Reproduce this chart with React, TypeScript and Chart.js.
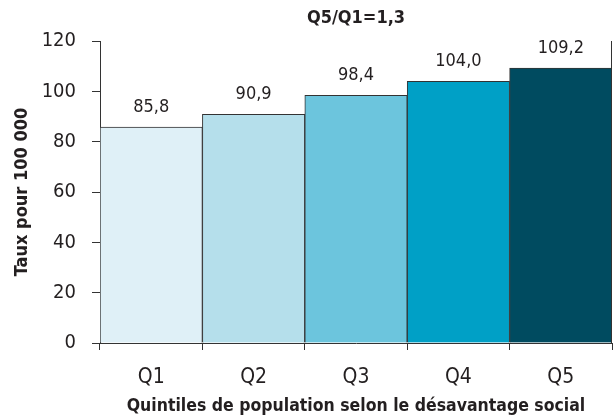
import React, { useEffect, useRef } from "react";
import { Chart, registerables } from "chart.js";

Chart.register(...registerables);

const categories = ["Q1", "Q2", "Q3", "Q4", "Q5"];
const values = [85.8, 90.9, 98.4, 104.0, 109.2];
const valueLabels = ["85,8", "90,9", "98,4", "104,0", "109,2"];
const barColors = ["#dff0f7", "#b5dfeb", "#6cc5dd", "#00a0c6", "#004b60"];
const titleText = "Q5/Q1=1,3";
const xTitle = "Quintiles de population selon le désavantage social";
const yTitle = "Taux pour 100 000";

const FONT = "'Liberation Sans Narrow', 'DejaVu Sans Condensed', 'Arial Narrow', sans-serif";
const TEXT = "#231f20";

const valueLabelPlugin = {
  id: "valueLabels",
  afterDatasetsDraw(chart: any) {
    const ctx = chart.ctx;
    const meta = chart.getDatasetMeta(0);
    ctx.save();
    ctx.font = `18px ${FONT}`;
    ctx.fillStyle = TEXT;
    ctx.textAlign = "center";
    ctx.textBaseline = "alphabetic";
    meta.data.forEach((el: any, i: number) => {
      ctx.fillText(valueLabels[i], el.x, el.y - 15);
    });
    ctx.restore();
  },
};

const rightLinePlugin = {
  id: "rightLine",
  afterDraw(chart: any) {
    const { ctx, chartArea } = chart;
    ctx.save();
    ctx.strokeStyle = "#333";
    ctx.lineWidth = 1;
    ctx.beginPath();
    const x = Math.round(chartArea.right) - 0.5;
    ctx.moveTo(x, chartArea.top);
    ctx.lineTo(x, chartArea.bottom);
    ctx.stroke();
    ctx.restore();
  },
};

export default function App() {
  const ref = useRef<HTMLCanvasElement | null>(null);
  useEffect(() => {
    if (!ref.current) return;
    const chart = new Chart(ref.current, {
      type: "bar",
      data: {
        labels: categories,
        datasets: [
          {
            data: values,
            backgroundColor: barColors,
            borderColor: "#333",
            borderWidth: 1,
            categoryPercentage: 1,
            barPercentage: 1,
          },
        ],
      },
      options: {
        animation: false,
        responsive: false,
        maintainAspectRatio: false,
        layout: { padding: { right: 2, left: 0, bottom: 0 } },
        plugins: {
          legend: { display: false },
          tooltip: { enabled: false },
          title: {
            display: true,
            fullSize: false,
            text: titleText,
            color: TEXT,
            font: { family: FONT, size: 18, weight: "bold" },
            padding: { top: 8, bottom: 11.4 },
          },
        },
        scales: {
          x: {
            grid: {
              display: true,
              drawOnChartArea: false,
              tickLength: 7,
              offset: true,
              color: "#333",
            },
            border: { display: true, color: "#333", width: 1 },
            ticks: {
              color: TEXT,
              font: { family: FONT, size: 21 },
              padding: 15,
            },
            title: {
              display: true,
              text: xTitle,
              color: TEXT,
              font: { family: FONT, size: 17.5, weight: "bold" },
              padding: { top: 0, bottom: 1 },
            },
            afterFit(scale: any) {
              scale.height = 75;
            },
          },
          y: {
            min: 0,
            max: 120,
            ticks: {
              stepSize: 20,
              color: TEXT,
              font: { family: FONT, size: 20 },
              padding: 16,
            },
            grid: {
              display: true,
              drawOnChartArea: false,
              tickLength: 8,
              color: "#333",
            },
            border: { display: true, color: "#333", width: 1 },
            title: {
              display: true,
              text: yTitle,
              color: TEXT,
              font: { family: FONT, size: 18, weight: "bold" },
              padding: { top: 12, bottom: 0 },
            },
            afterFit(scale: any) {
              scale.width = 100;
            },
          },
        },
      },
      plugins: [valueLabelPlugin, rightLinePlugin],
    });
    return () => chart.destroy();
  }, []);
  return (
    <div style={{ position: "fixed", left: 0, top: 0, width: 614, height: 418, background: "#fff" }}>
      <canvas ref={ref} width={614} height={418} style={{ display: "block", width: 614, height: 418 }} />
    </div>
  );
}
